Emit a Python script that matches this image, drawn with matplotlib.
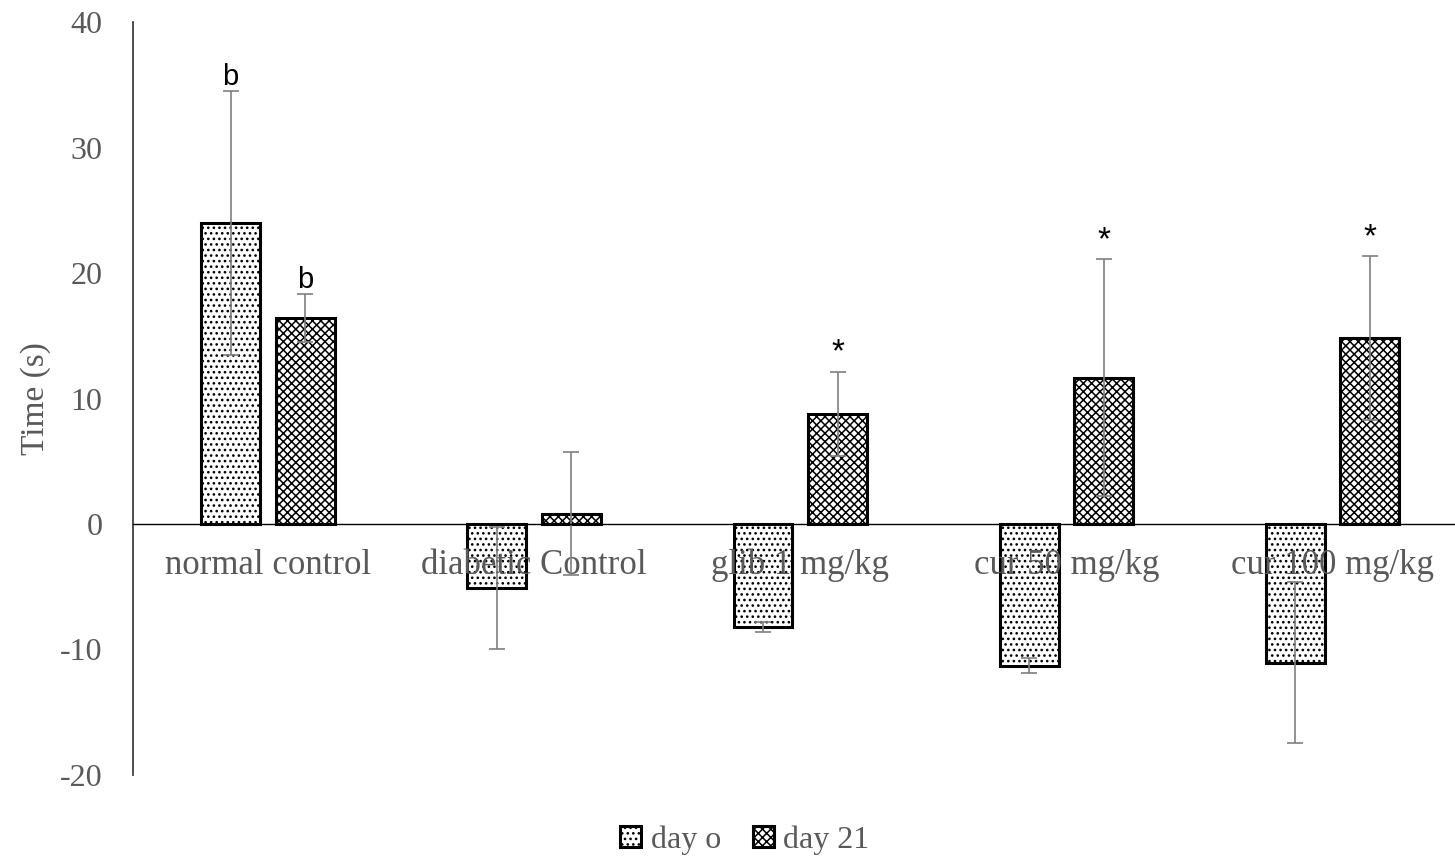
import numpy as np
import matplotlib.pyplot as plt

plt.rcParams['hatch.linewidth'] = 1.1
plt.rcParams['axes.unicode_minus'] = False

categories = ['normal control', 'diabetic Control', 'glib 1 mg/kg', 'cur 50 mg/kg', 'cur 100 mg/kg']
day0 = [24.0, -5.1, -8.2, -11.3, -11.05]
day0_err = [10.5, 4.9, 0.4, 0.6, 6.4]
day21 = [16.4, 0.8, 8.8, 11.65, 14.8]
day21_err = [1.9, 4.9, 3.35, 9.45, 6.55]
day0_marks = ['b', '', '', '', '']
day21_marks = ['b', '', '*', '*', '*']

grey = '#595959'
serif = 'Liberation Serif'

fig = plt.figure(figsize=(14.55, 8.57), dpi=100)
ax = fig.add_axes([0.0914, 0.0957, 0.9086, 0.8786])
ax.set_axisbelow(False)

x = np.arange(len(categories))
w = 0.221
off = 0.14

b0 = ax.bar(x - off, day0, w, color='white', edgecolor='black', linewidth=2.2,
            hatch='...', label='day o', zorder=2)
b1 = ax.bar(x + off, day21, w, color='white', edgecolor='black', linewidth=2.2,
            hatch='xxxx', label='day 21', zorder=2)

ax.errorbar(x - off, day0, yerr=day0_err, fmt='none', ecolor='#7f7f7f',
            elinewidth=1.2, capsize=6, capthick=1.2, zorder=3)
ax.errorbar(x + off, day21, yerr=day21_err, fmt='none', ecolor='#7f7f7f',
            elinewidth=1.2, capsize=6, capthick=1.2, zorder=3)

# significance letters above the upper caps
for xs, vals, errs, marks in [(x - off, day0, day0_err, day0_marks),
                              (x + off, day21, day21_err, day21_marks)]:
    for xi, v, e, m in zip(xs, vals, errs, marks):
        if m == 'b':
            ax.annotate(m, (xi, v + e), xytext=(0, 0), textcoords='offset points',
                        ha='center', va='bottom', fontsize=21,
                        family='Liberation Sans', color='black')
        elif m:
            ax.annotate(m, (xi, v + e), xytext=(0, 2), textcoords='offset points',
                        ha='center', va='bottom', fontsize=24,
                        family='Liberation Sans', color='black')

ax.set_ylim(-20, 40)
ax.set_xlim(-0.507, 4.46)
ax.set_yticks([-20, -10, 0, 10, 20, 30, 40])
ax.set_xticks(x)
ax.set_xticklabels(categories)

ax.spines['top'].set_visible(False)
ax.spines['right'].set_visible(False)
ax.spines['left'].set_color('#404040')
ax.spines['left'].set_linewidth(1.3)
ax.spines['bottom'].set_position(('data', 0))
ax.spines['bottom'].set_color('black')
ax.spines['bottom'].set_linewidth(1.0)
ax.spines['bottom'].set_zorder(4)

ax.tick_params(axis='y', length=0, pad=22, labelsize=23, labelcolor=grey)
ax.tick_params(axis='x', length=0, pad=18, labelsize=25, labelcolor=grey)
for t in ax.get_xticklabels() + ax.get_yticklabels():
    t.set_family(serif)

ax.set_ylabel('Time (s)', fontsize=24, color=grey, family=serif, labelpad=6)

leg = fig.legend(handles=[b0, b1], loc='center', bbox_to_anchor=(745 / 1455, 1 - 840 / 857),
                 ncol=2, frameon=False, handlelength=0.65, handleheight=0.65,
                 handletextpad=0.3, columnspacing=1.0,
                 prop={'family': serif, 'size': 23})
for t in leg.get_texts():
    t.set_color(grey)

fig.savefig('out.png', dpi=100)
